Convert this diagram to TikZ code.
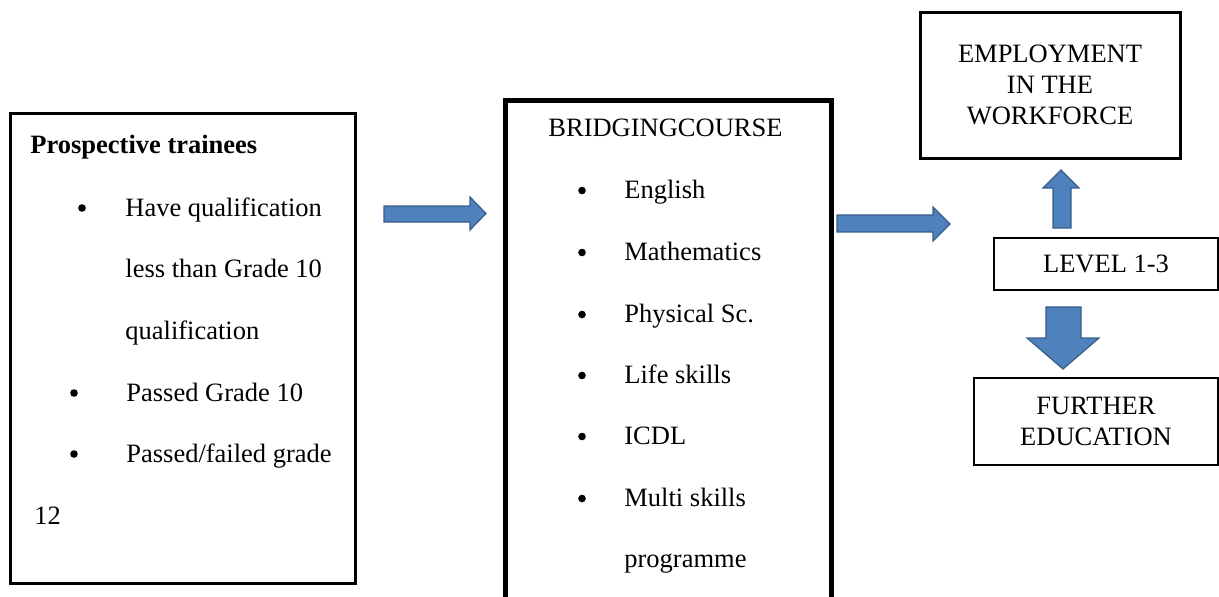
\documentclass[tikz,border=0pt]{standalone}
\usepackage{fontspec}
\setmainfont{Liberation Serif}
\definecolor{arrowfill}{HTML}{4F81BD}
\definecolor{arrowline}{HTML}{385D8A}
\tikzstyle{box} = [draw, rectangle, inner sep=0pt, align=center]
\tikzstyle{item} = [anchor=base west, inner sep=0pt]
\tikzstyle{dot} = [circle, fill, inner sep=0pt, minimum size=3.8pt]
\tikzstyle{block arrow} = [fill=arrowfill, draw=arrowline, line width=0.6pt, line join=miter]

\begin{document}
\begin{tikzpicture}[x=0.5pt, y=-0.5pt, font=\fontsize{13.25}{15.5}\selectfont]
    \useasboundingbox (0,0) rectangle (1219,596);
    \clip (0,0) rectangle (1219,596);

    % The boxes
    \node[box, line width=1.5pt, minimum width=172.5pt, minimum height=235pt] (trainees) at (182.5,348) {};
    \node[box, line width=2.5pt, minimum width=163pt, minimum height=270pt] (bridging) at (668,370) {};
    \node[box, line width=1.5pt, minimum width=130pt, minimum height=73pt] (employment) at (1050,85) {EMPLOYMENT\\IN THE\\WORKFORCE};
    \node[box, line width=1pt, minimum width=112pt, minimum height=26pt] (level) at (1106,264) {LEVEL 1-3};
    \node[box, line width=1pt, minimum width=122pt, minimum height=43.5pt] (further) at (1096,421.5) {FURTHER\\EDUCATION};

    % Prospective trainees
    \node[item] (trainees title) at (30,153) {\bfseries Prospective trainees};
    \foreach \name/\x/\y/\txt in {t1/125/216/Have qualification, t2/125/277/less than Grade 10,
        t3/125/339/qualification, t4/126/401/Passed Grade 10, t5/126/462/{Passed/failed grade}, t6/34/524/12}
        \node[item] (\name) at (\x,\y) {\txt};
    \foreach \name/\pos in {b1/{(82,208)}, b2/{(74,393)}, b3/{(74,454)}}
        \node[dot] (\name) at \pos {};

    % Bridging course
    \node[item] (bridging title) at (548,136) {BRIDGINGCOURSE};
    \foreach \name/\y/\txt in {c1/198/English, c2/260/Mathematics, c3/322/Physical Sc.,
        c4/383/Life skills, c5/444/ICDL, c6/506/Multi skills, c7/567/programme}
        \node[item] (\name) at (624,\y) {\txt};
    \foreach \name/\y in {d1/190.5, d2/252.5, d3/314.5, d4/375.5, d5/436.5, d6/498.5}
        \node[dot] (\name) at (582,\y) {};

    % Block arrows
    \path[block arrow] (384,206) -- (470,206) -- (470,197) -- (486,213.5) -- (470,230) -- (470,222) -- (384,222) -- cycle;
    \path[block arrow] (837,215) -- (933,215) -- (933,207) -- (950,224) -- (933,241) -- (933,232) -- (837,232) -- cycle;
    \path[block arrow] (1053,228) -- (1053,188) -- (1043,188) -- (1061,170) -- (1079,188) -- (1071,188) -- (1071,228) -- cycle;
    \path[block arrow] (1046,307) -- (1046,338) -- (1027,338) -- (1063,369) -- (1099,338) -- (1081,338) -- (1081,307) -- cycle;

\end{tikzpicture}
\end{document}
